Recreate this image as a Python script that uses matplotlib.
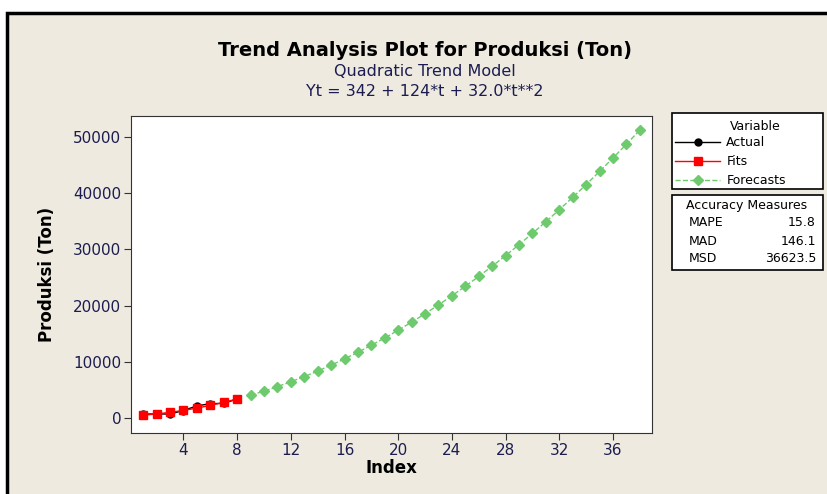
import matplotlib.pyplot as plt
from matplotlib.patches import Rectangle

# Data
t_actual = [1, 2, 3, 4, 5, 6, 7, 8]
actual = [700, 720, 700, 1330, 2150, 2550, 2600, 3380]
fits = [498, 718, 1002, 1350, 1762, 2238, 2778, 3382]
t_fc = list(range(9, 39))
forecasts = [4050, 4782, 5578, 6438, 7362, 8350, 9402, 10518, 11698, 12942,
             14250, 15622, 17058, 18558, 20122, 21750, 23442, 25198, 27018, 28902,
             30850, 32862, 34938, 37078, 39282, 41550, 43882, 46278, 48738, 51262]
x_ticks = [4, 8, 12, 16, 20, 24, 28, 32, 36]
y_ticks = [0, 10000, 20000, 30000, 40000, 50000]
acc_names = ['MAPE', 'MAD', 'MSD']
acc_values = ['15.8', '146.1', '36623.5']

bg = '#EEEAE0'
navy = '#1c1c50'
green = '#6DCB6D'

fig = plt.figure(figsize=(8.27, 4.94), dpi=100)
fig.patch.set_facecolor('white')
# outer frame
fig.patches.append(Rectangle((7 / 827, -0.05), 1.0, 1 - 13 / 494 + 0.05,
                             transform=fig.transFigure, facecolor=bg,
                             edgecolor='black', linewidth=2.5, zorder=-5))

ax = fig.add_axes([131 / 827, 1 - 433 / 494, (652 - 131) / 827, (433 - 116) / 494])
ax.set_facecolor('white')

ax.plot(t_fc, forecasts, color=green, linestyle='--', linewidth=1,
        marker='D', markersize=5.5, label='Forecasts', zorder=2)
ax.plot(t_actual, actual, color='black', linewidth=1, marker='o',
        markersize=5, label='Actual', zorder=3)
ax.plot(t_actual, fits, color='red', linewidth=1, marker='s',
        markersize=6, label='Fits', zorder=4)

ax.set_xlim(0.1, 38.9)
ax.set_ylim(-2670, 53740)
ax.set_xticks(x_ticks)
ax.set_yticks(y_ticks)
ax.tick_params(direction='out', length=5, colors='#333333', labelcolor=navy,
               labelsize=11, pad=2)
for s in ax.spines.values():
    s.set_color('#333333')

ax.set_xlabel('Index', fontsize=12, fontweight='bold', color='black', labelpad=1)
ax.set_ylabel('Produksi (Ton)', fontsize=12, fontweight='bold', color='black', labelpad=12)

fig.text(425 / 827, 1 - 50 / 494, 'Trend Analysis Plot for Produksi (Ton)',
         ha='center', va='center', fontsize=14, fontweight='bold')
fig.text(425 / 827, 1 - 71 / 494, 'Quadratic Trend Model',
         ha='center', va='center', fontsize=11.5, color=navy)
fig.text(425 / 827, 1 - 92 / 494, 'Yt = 342 + 124*t + 32.0*t**2',
         ha='center', va='center', fontsize=11.5, color=navy)

# legend box
fig.patches.append(Rectangle((672 / 827, 1 - 189 / 494), 151 / 827, 76 / 494,
                             transform=fig.transFigure, facecolor='white',
                             edgecolor='black', linewidth=1.2, zorder=1))
fig.text(755 / 827, 1 - 126 / 494, 'Variable', ha='center', va='center', fontsize=9)
handles, labels = ax.get_legend_handles_labels()
order = [1, 2, 0]
leg = fig.legend([handles[i] for i in order], [labels[i] for i in order],
                 loc='upper left', bbox_to_anchor=(675 / 827, 1 - 136 / 494),
                 fontsize=9, frameon=False, borderpad=0, labelspacing=0.5,
                 handlelength=3.6, handletextpad=0.5, borderaxespad=0)

# accuracy measures box
fig.patches.append(Rectangle((672 / 827, 1 - 270 / 494), 151 / 827, 75 / 494,
                             transform=fig.transFigure, facecolor='white',
                             edgecolor='black', linewidth=1.2, zorder=1))
fig.text(747 / 827, 1 - 205 / 494, 'Accuracy Measures', ha='center', va='center', fontsize=9)
for i, (n, v) in enumerate(zip(acc_names, acc_values)):
    y = 1 - (223 + i * 18) / 494
    fig.text(689 / 827, y, n, ha='left', va='center', fontsize=9)
    fig.text(816 / 827, y, v, ha='right', va='center', fontsize=9)

plt.savefig('out.png', dpi=100, facecolor=fig.get_facecolor())
